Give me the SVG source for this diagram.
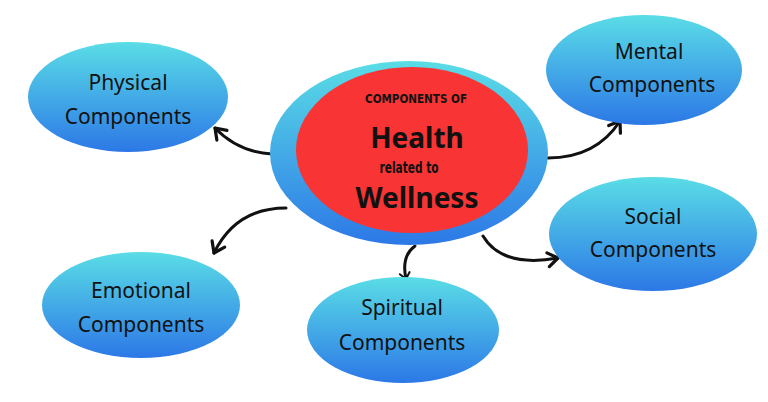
<svg xmlns="http://www.w3.org/2000/svg" width="768" height="402" viewBox="0 0 768 402">
  <defs>
    <linearGradient id="blueGrad" x1="0" y1="0" x2="0" y2="1">
      <stop offset="0" stop-color="#5ADDE6"/>
      <stop offset="1" stop-color="#2C78E6"/>
    </linearGradient>
    <marker id="arrow" markerUnits="userSpaceOnUse" markerWidth="30" markerHeight="30" viewBox="-15 -15 30 30" refX="0" refY="0" orient="auto">
      <path d="M -10 -7 L 0 0 L -10 7" fill="none" stroke="#111" stroke-width="3.2" stroke-linecap="round" stroke-linejoin="round"/>
    </marker>
    <marker id="arrowSmall" markerUnits="userSpaceOnUse" markerWidth="20" markerHeight="20" viewBox="-10 -10 20 20" refX="0" refY="0" orient="auto">
      <path d="M -6 -5 L 0 0 L -6 5" fill="none" stroke="#111" stroke-width="2" stroke-linecap="round" stroke-linejoin="round"/>
    </marker>
    <style>
      .bubble { fill: url(#blueGrad); }
      .label { font-family: "Noto Sans", "DejaVu Sans", sans-serif; font-size: 21px; fill: #111; text-anchor: middle; }
      .conn { fill: none; stroke: #111; stroke-width: 3; stroke-linecap: round; }
      .narrow { font-family: "Liberation Sans Narrow", "DejaVu Sans Condensed", "Liberation Sans", sans-serif; font-weight: bold; fill: #111; text-anchor: middle; }
      .big { font-family: "Noto Sans", "Open Sans", sans-serif; font-weight: bold; font-size: 28px; fill: #111; text-anchor: middle; }
    </style>
  </defs>
  <rect width="768" height="402" fill="#ffffff"/>

  <g id="connectors">
    <path class="conn" d="M 272 154 Q 238 152 215 128" marker-end="url(#arrow)"/>
    <path class="conn" d="M 548 158 Q 596 158 620 121" marker-end="url(#arrow)"/>
    <path class="conn" d="M 286 208 Q 236 208 214 253" marker-end="url(#arrow)"/>
    <path class="conn" d="M 415 246 Q 401 256 406 279" stroke-width="2" marker-end="url(#arrowSmall)"/>
    <path class="conn" d="M 483 236 Q 502 268 558 258" marker-end="url(#arrow)"/>
  </g>

  <g id="center">
    <ellipse cx="409" cy="153" rx="139" ry="92" class="bubble"/>
    <ellipse cx="412" cy="150" rx="116" ry="83" fill="#F83434"/>
    <text class="narrow" x="416" y="103" font-size="13" textLength="102" lengthAdjust="spacingAndGlyphs">COMPONENTS OF</text>
    <text class="big" x="417" y="148">Health</text>
    <text class="narrow" x="409" y="173" font-size="15" textLength="59" lengthAdjust="spacingAndGlyphs">related to</text>
    <text class="big" x="417" y="208">Wellness</text>
  </g>

  <g id="physical">
    <ellipse cx="128" cy="97" rx="100" ry="55" class="bubble"/>
    <text class="label" x="128" y="90">Physical</text>
    <text class="label" x="128" y="124">Components</text>
  </g>

  <g id="mental">
    <ellipse cx="644" cy="70" rx="98" ry="55" class="bubble"/>
    <text class="label" x="649" y="59">Mental</text>
    <text class="label" x="652" y="92">Components</text>
  </g>

  <g id="social">
    <ellipse cx="653" cy="234" rx="104" ry="57" class="bubble"/>
    <text class="label" x="653" y="224">Social</text>
    <text class="label" x="653" y="257">Components</text>
  </g>

  <g id="emotional">
    <ellipse cx="141" cy="305" rx="99" ry="53" class="bubble"/>
    <text class="label" x="141" y="298">Emotional</text>
    <text class="label" x="141" y="332">Components</text>
  </g>

  <g id="spiritual">
    <ellipse cx="403" cy="330" rx="96" ry="53" class="bubble"/>
    <text class="label" x="402" y="315">Spiritual</text>
    <text class="label" x="402" y="350">Components</text>
  </g>
</svg>
